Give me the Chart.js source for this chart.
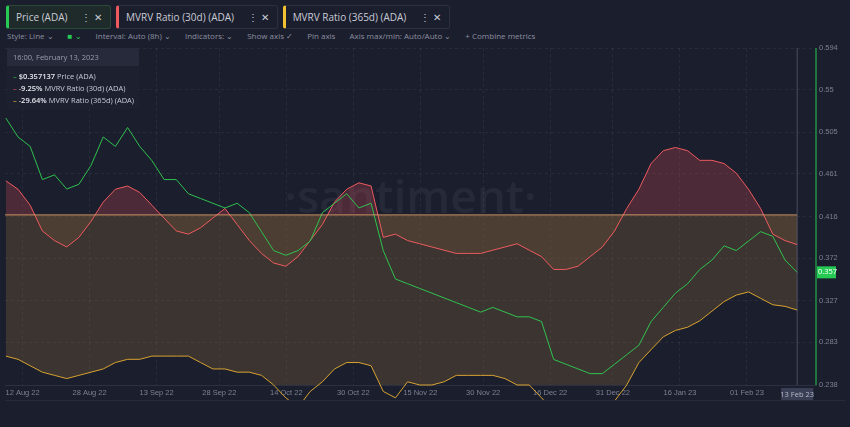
<!DOCTYPE html>
<html>
<head>
<meta charset="utf-8">
<script src="https://cdn.jsdelivr.net/npm/chart.js@4"></script>
<style>
  body { margin: 0; background: #1b1e2d; font-family: "Open Sans", sans-serif; color: #c9cbd6; width: 850px; height: 427px; overflow: hidden; position: relative; }
  .tabs { position: absolute; top: 5px; left: 6px; display: flex; gap: 5px; font-size: 10px; }
  .tab { border: 1px solid #2c3042; border-radius: 3px; padding: 4px 8px 4px 7px; border-left: 3px solid; display: flex; gap: 14px; }
  .bar { position: absolute; top: 30px; left: 7px; font-size: 8px; color: #8d90a0; display: flex; gap: 14px; }
  .legend { position: absolute; top: 48px; left: 7px; width: 132px; background: rgba(30,33,48,0.9); font-size: 7.5px; white-space: nowrap; }
  .legend .hd { background: #262a3b; padding: 4px 6px; color: #9a9dac; }
  .legend div.r { padding: 1px 6px; }
  .legend b { color: #e6e7ee; font-weight: 600; }
  canvas { position: absolute; left: 0; top: 40px; }
  .nav { position: absolute; left: 5px; top: 400px; width: 840px; height: 22px; border-top: 1px solid #262a3b; }
</style>
</head>
<body>
<div class="tabs">
  <div class="tab" style="background:#1f2a2a;border-color:#2b4a36;border-left-color:#26c953">Price (ADA) <span>⋮ ✕</span></div>
  <div class="tab" style="border-left-color:#ef5a5f">MVRV Ratio (30d) (ADA) <span>⋮ ✕</span></div>
  <div class="tab" style="border-left-color:#f2c230">MVRV Ratio (365d) (ADA) <span>⋮ ✕</span></div>
</div>
<div class="bar">
  <span>Style: Line ⌄</span><span style="color:#26c953">■ ⌄</span><span>Interval: Auto (8h) ⌄</span><span>Indicators: ⌄</span><span>Show axis ✓</span><span>Pin axis</span><span>Axis max/min: Auto/Auto ⌄</span><span>+ Combine metrics</span>
</div>
<canvas id="c" width="850" height="360"></canvas>
<div class="legend">
  <div class="hd">16:00, February 13, 2023</div>
  <div class="r" style="margin-top:4px"><span style="color:#26c953">–</span> <b>$0.357137</b> Price (ADA)</div>
  <div class="r"><span style="color:#ef5a5f">–</span> <b>-9.25%</b> MVRV Ratio (30d) (ADA)</div>
  <div class="r" style="padding-bottom:4px"><span style="color:#f2c230">–</span> <b>-29.64%</b> MVRV Ratio (365d) (ADA)</div>
</div>
<div class="nav"></div>
<script>
// days since 8 Aug 2022, one point every ~3 days up to 13 Feb 2023
const lastDay = 189;
const price = [0.52,0.50,0.49,0.455,0.46,0.445,0.45,0.47,0.50,0.49,0.51,0.49,0.475,0.455,0.455,0.44,
  0.435,0.43,0.425,0.43,0.42,0.40,0.38,0.375,0.38,0.39,0.42,0.43,0.44,0.425,0.43,0.38,
  0.35,0.345,0.34,0.335,0.33,0.325,0.32,0.315,0.32,0.315,0.31,0.31,0.305,0.265,0.26,0.255,
  0.25,0.25,0.26,0.27,0.28,0.305,0.32,0.335,0.345,0.36,0.37,0.385,0.38,0.39,0.40,0.395,0.37,0.357];
const mvrv30 = [10.6,8,3,-5,-8,-10,-7,-2,4,8,9,7,3,-1,-5,-6,
  -4,-1,2,-3,-8,-12,-15,-16,-13,-8,-3,4,8,10,9,-7,
  -6,-8,-9,-10,-11,-12,-12,-12,-11,-10,-9,-11,-13,-17,-17,-16,
  -13,-10,-5,2,8,16,20,21,20,17,17,16,13,8,2,-6,-8,-9.25];
const mvrv365 = [-44,-45,-47,-49,-50,-51,-50,-49,-48,-46,-45,-45,-44,-44,-44,-44,
  -46,-48,-48,-49,-49,-50,-53,-57,-60,-55,-52,-48,-46,-46,-47,-55,
  -57,-52,-53,-53,-52,-50,-50,-50,-50,-51,-53,-53,-57,-61,-64,-63,
  -61,-60,-58,-53,-46,-42,-38,-36,-35,-33,-30,-27,-25,-24,-26,-28,-28.5,-29.64];
const priceTicks = [0.238,0.283,0.327,0.372,0.416,0.461,0.505,0.55,0.594];
const tickDays = [4,20,36,51,67,83,99,114,130,145,161,177];
const tickLabels = ['12 Aug 22','28 Aug 22','13 Sep 22','28 Sep 22','14 Oct 22','30 Oct 22','15 Nov 22','30 Nov 22','16 Dec 22','31 Dec 22','16 Jan 23','01 Feb 23'];

const days = price.map((_, i) => i * lastDay / (price.length - 1));
const pts = arr => arr.map((v, i) => ({ x: days[i], y: v }));

const overlay = {
  id: 'overlay',
  beforeDatasetsDraw(chart) {
    const { ctx, chartArea: a } = chart;
    ctx.save();
    ctx.font = '600 46px "Open Sans"';
    ctx.fillStyle = 'rgba(255,255,255,0.05)';
    ctx.textAlign = 'center';
    ctx.fillText('·santiment·', (a.left + a.right) / 2, (a.top + a.bottom) / 2 - 4);
    ctx.restore();
  },
  afterDatasetsDraw(chart) {
    const { ctx, chartArea: a, scales } = chart;
    const y0 = scales.y2.getPixelForValue(0);
    const xEnd = scales.x.getPixelForValue(lastDay);
    ctx.save();
    ctx.strokeStyle = 'rgba(240,170,110,0.8)';
    ctx.lineWidth = 1;
    ctx.beginPath(); ctx.moveTo(a.left, y0); ctx.lineTo(xEnd, y0); ctx.stroke();
    ctx.strokeStyle = 'rgba(120,125,150,0.5)';
    ctx.beginPath(); ctx.moveTo(xEnd, a.top); ctx.lineTo(xEnd, a.bottom); ctx.stroke();
    ctx.strokeStyle = '#26c953';
    ctx.beginPath(); ctx.moveTo(a.right, a.top); ctx.lineTo(a.right, a.bottom); ctx.stroke();
    const yp = scales.y.getPixelForValue(price[price.length - 1]);
    ctx.fillStyle = '#26c953';
    ctx.fillRect(a.right + 1, yp - 6, 19, 12);
    ctx.fillStyle = '#fff';
    ctx.font = '7.5px "Open Sans"';
    ctx.textBaseline = 'middle';
    ctx.fillText('0.357', a.right + 2, yp);
    ctx.fillStyle = '#3a3f56';
    ctx.fillRect(xEnd - 16, a.bottom + 3, 32, 12);
    ctx.fillStyle = '#b8bbc9';
    ctx.textAlign = 'center';
    ctx.fillText('13 Feb 23', xEnd, a.bottom + 9.5);
    ctx.restore();
  }
};

new Chart(document.getElementById('c'), {
  type: 'line',
  data: {
    datasets: [
      { data: pts(price), yAxisID: 'y', borderColor: '#2fc24f', borderWidth: 1, pointRadius: 0, tension: 0, fill: false, order: 0 },
      { data: pts(mvrv30), yAxisID: 'y2', borderColor: '#ef5a5f', borderWidth: 1, pointRadius: 0, tension: 0, order: 1,
        fill: { target: 'origin', above: 'rgba(210,75,85,0.28)', below: 'rgba(150,105,60,0.18)' } },
      { data: pts(mvrv365), yAxisID: 'y2', borderColor: '#d8a330', borderWidth: 1, pointRadius: 0, tension: 0, order: 2, clip: false,
        fill: { target: 'origin', above: 'rgba(150,110,60,0.3)', below: 'rgba(140,105,60,0.3)' } }
    ]
  },
  options: {
    responsive: false,
    animation: false,
    layout: { padding: { top: 8, left: 5, right: 0, bottom: 0 } },
    plugins: { legend: { display: false }, tooltip: { enabled: false } },
    scales: {
      x: {
        type: 'linear', min: -0.2, max: 193.5,
        afterBuildTicks: s => { s.ticks = tickDays.map(v => ({ value: v })); },
        ticks: { color: '#7d8092', font: { size: 7.5 }, maxRotation: 0, autoSkip: false, padding: 3,
          callback: (v) => tickLabels[tickDays.indexOf(v)] },
        grid: { color: 'rgba(255,255,255,0.06)', drawTicks: false },
        border: { display: true, color: '#2c3042', dash: [3, 3] }
      },
      y: {
        position: 'right', min: 0.238, max: 0.594,
        afterBuildTicks: s => { s.ticks = priceTicks.map(v => ({ value: v })); },
        afterFit: s => { s.width = 34; },
        ticks: { color: '#7d8092', font: { size: 7.5 }, padding: 3, callback: v => String(v) },
        grid: { color: 'rgba(255,255,255,0.06)', drawTicks: false },
        border: { display: false, dash: [3, 3] }
      },
      y2: { display: false, min: -53, max: 52 }
    }
  },
  plugins: [overlay]
});
</script>
</body>
</html>
